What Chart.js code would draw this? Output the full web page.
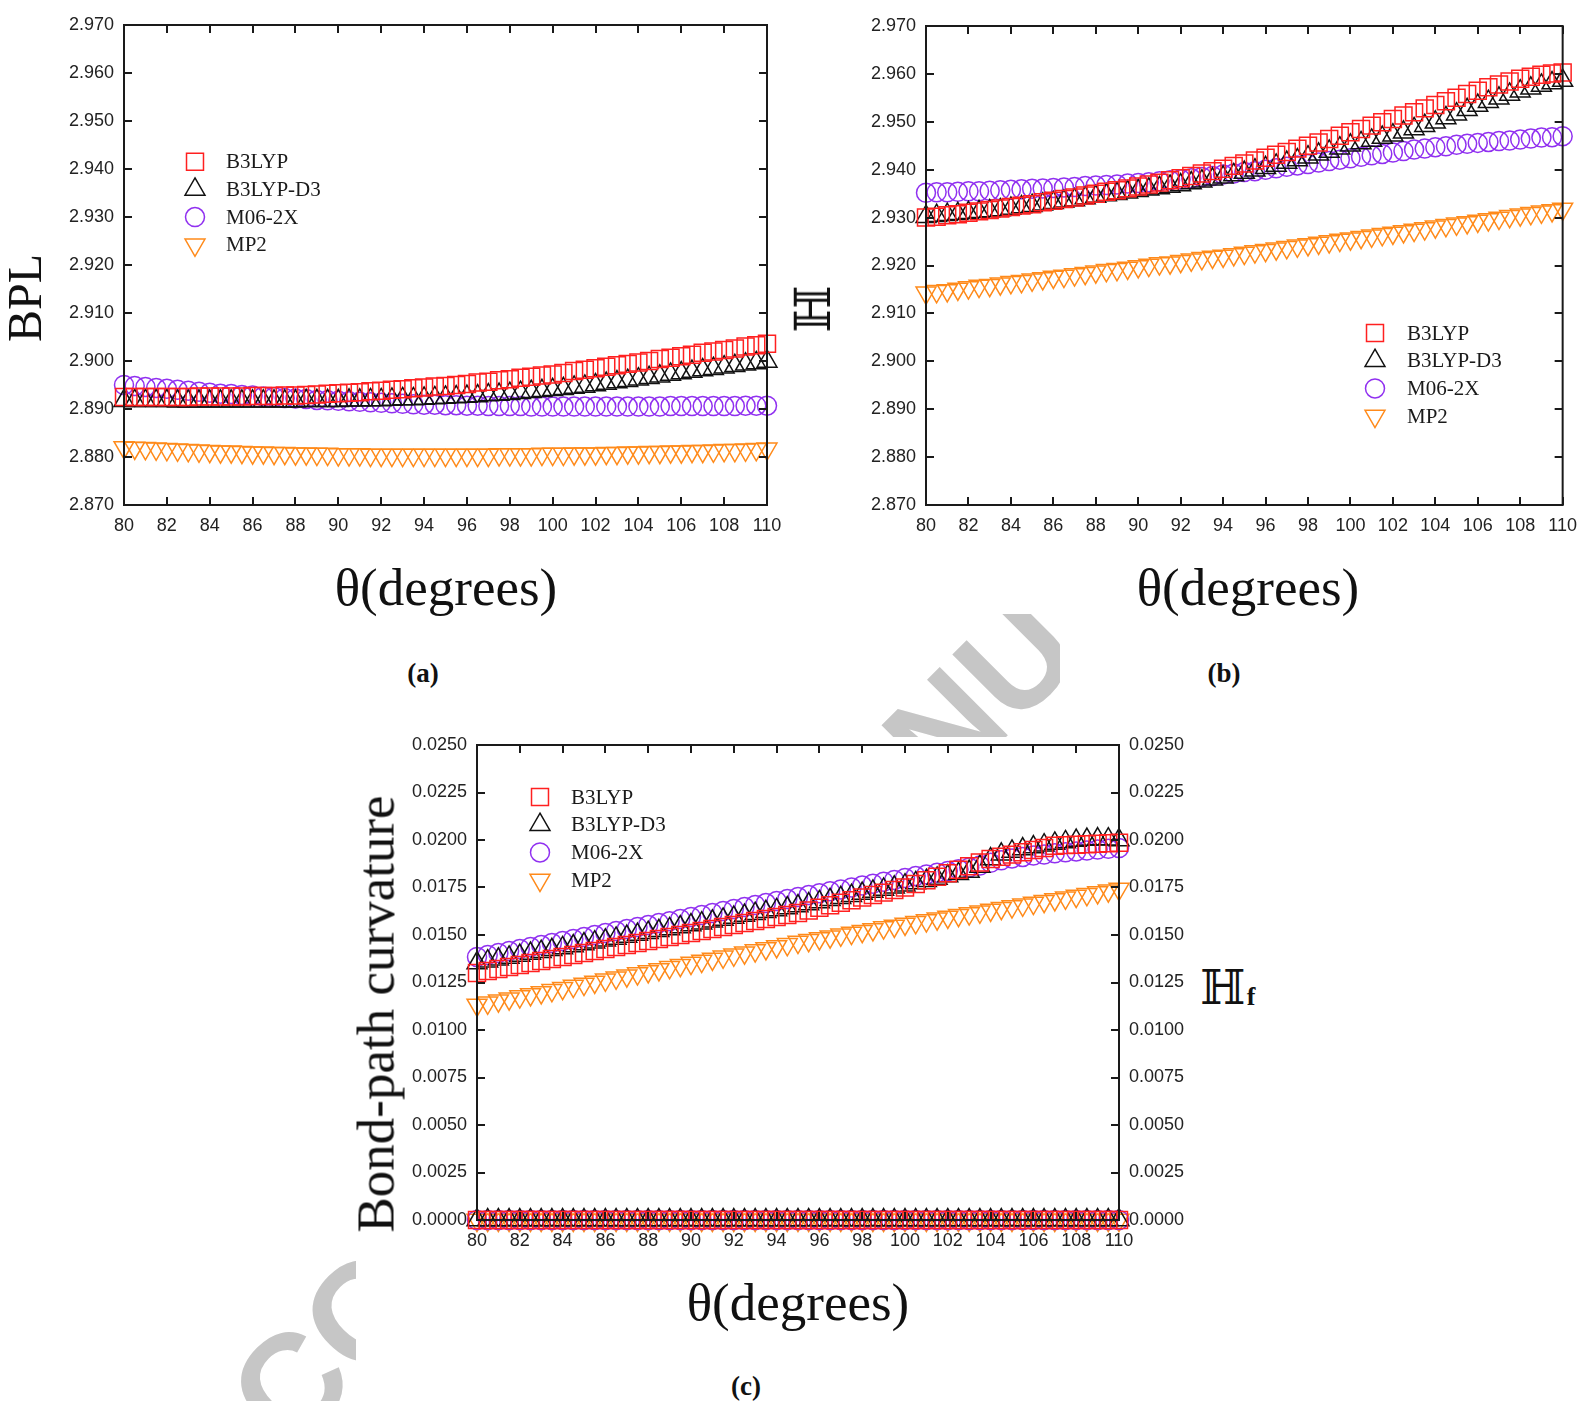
<!DOCTYPE html>
<html>
<head>
<meta charset="utf-8">
<script src="https://cdn.jsdelivr.net/npm/chart.js@4.4.1/dist/chart.umd.min.js"></script>
<style>
  body { margin: 0; width: 1587px; height: 1401px; position: relative; background: #fff; overflow: hidden; }
  canvas { position: absolute; }
  .t { position: absolute; white-space: nowrap; transform: translate(-50%, -50%); color: #111; font-family: "Liberation Serif", serif; line-height: 1; }
  .wm { position: absolute; left: 0; top: 0; width: 1587px; height: 1401px; }
  .wm span { position: absolute; left: 799px; top: 876px; transform: translate(-50%, -50%) rotate(-45deg);
             font: bold 140px "Liberation Sans", sans-serif; color: #c6c6c6; white-space: nowrap; }
</style>
</head>
<body>
<div class="wm" style="clip-path: inset(614px 527px 664px 860px)"><span>ACCEPTED MANUSCRIPT</span></div>
<div class="wm" style="clip-path: inset(1180px 1231px 0px 0px)"><span>ACCEPTED MANUSCRIPT</span></div>

<canvas id="chartA" width="800" height="540" style="left:0;top:0"></canvas>
<canvas id="chartB" width="787" height="540" style="left:800px;top:0"></canvas>
<canvas id="chartC" width="810" height="540" style="left:390px;top:720px"></canvas>

<div class="t" style="left:25px;top:298px;font-size:48px;transform:translate(-50%,-50%) rotate(-90deg)">BPL</div>
<div class="t" style="left:446px;top:587px;font-size:53px">θ(degrees)</div>
<div class="t" style="left:423px;top:673px;font-size:27px;font-weight:bold">(a)</div>

<div class="t" style="left:813px;top:309px;font-size:50px;font-family:'DejaVu Serif','DejaVu Sans';transform:translate(-50%,-50%) rotate(-90deg)">ℍ</div>
<div class="t" style="left:1248px;top:587px;font-size:53px">θ(degrees)</div>
<div class="t" style="left:1224px;top:673px;font-size:27px;font-weight:bold">(b)</div>

<div class="t" style="left:376px;top:1014px;font-size:53px;transform:translate(-50%,-50%) rotate(-90deg)">Bond-path curvature</div>
<div class="t" style="left:1223px;top:987px;font-size:48px;font-family:'DejaVu Serif','DejaVu Sans'">ℍ</div>
<div class="t" style="left:1251px;top:997px;font-size:26px;font-weight:bold">f</div>
<div class="t" style="left:798px;top:1302px;font-size:53px">θ(degrees)</div>
<div class="t" style="left:746px;top:1386px;font-size:27px;font-weight:bold">(c)</div>

<script>
// angle values, 0.5 degree steps
const theta = [80, 80.5, 81, 81.5, 82, 82.5, 83, 83.5, 84, 84.5, 85, 85.5, 86, 86.5, 87, 87.5, 88, 88.5, 89, 89.5,
  90, 90.5, 91, 91.5, 92, 92.5, 93, 93.5, 94, 94.5, 95, 95.5, 96, 96.5, 97, 97.5, 98, 98.5, 99, 99.5,
  100, 100.5, 101, 101.5, 102, 102.5, 103, 103.5, 104, 104.5, 105, 105.5, 106, 106.5, 107, 107.5, 108, 108.5, 109, 109.5, 110];

const methods = ["B3LYP", "B3LYP-D3", "M06-2X", "MP2"];

// (a) BPL
const bplB3LYP = [2.8925, 2.8925, 2.8925, 2.8925, 2.8925, 2.8925, 2.8925, 2.8926, 2.8926, 2.8926, 2.8926, 2.8926, 2.8927, 2.8927, 2.8927, 2.8928, 2.8928, 2.8929, 2.8930, 2.8932,
  2.8933, 2.8934, 2.8935, 2.8937, 2.8938, 2.8940, 2.8941, 2.8943, 2.8945, 2.8947, 2.8948, 2.8950, 2.8952, 2.8955, 2.8957, 2.8960, 2.8962, 2.8965, 2.8967, 2.8970,
  2.8972, 2.8975, 2.8979, 2.8982, 2.8985, 2.8988, 2.8991, 2.8994, 2.8997, 2.9000, 2.9004, 2.9007, 2.9010, 2.9013, 2.9017, 2.9020, 2.9023, 2.9026, 2.9030, 2.9033, 2.9036];
const bplB3LYPD3 = [2.8917, 2.8917, 2.8917, 2.8917, 2.8917, 2.8916, 2.8916, 2.8916, 2.8916, 2.8916, 2.8916, 2.8916, 2.8916, 2.8916, 2.8916, 2.8916, 2.8916, 2.8917, 2.8917, 2.8917,
  2.8917, 2.8918, 2.8918, 2.8919, 2.8919, 2.8920, 2.8921, 2.8921, 2.8922, 2.8923, 2.8924, 2.8925, 2.8926, 2.8927, 2.8929, 2.8930, 2.8932, 2.8934, 2.8936, 2.8938,
  2.8940, 2.8942, 2.8945, 2.8947, 2.8950, 2.8953, 2.8956, 2.8959, 2.8962, 2.8965, 2.8968, 2.8972, 2.8975, 2.8978, 2.8981, 2.8984, 2.8987, 2.8990, 2.8993, 2.8996, 2.8999];
const bplM062X = [2.8950, 2.8948, 2.8946, 2.8944, 2.8942, 2.8940, 2.8938, 2.8936, 2.8934, 2.8932, 2.8931, 2.8929, 2.8928, 2.8926, 2.8925, 2.8923, 2.8922, 2.8921, 2.8919, 2.8918,
  2.8917, 2.8916, 2.8915, 2.8914, 2.8913, 2.8912, 2.8911, 2.8910, 2.8909, 2.8909, 2.8908, 2.8908, 2.8907, 2.8907, 2.8906, 2.8906, 2.8906, 2.8906, 2.8905, 2.8905,
  2.8905, 2.8905, 2.8905, 2.8905, 2.8905, 2.8905, 2.8905, 2.8905, 2.8905, 2.8905, 2.8905, 2.8906, 2.8906, 2.8906, 2.8906, 2.8906, 2.8906, 2.8906, 2.8907, 2.8907, 2.8907];
const bplMP2 = [2.8820, 2.8819, 2.8818, 2.8817, 2.8816, 2.8815, 2.8814, 2.8813, 2.8812, 2.8811, 2.8811, 2.8810, 2.8809, 2.8809, 2.8808, 2.8808, 2.8807, 2.8807, 2.8806, 2.8806,
  2.8805, 2.8805, 2.8805, 2.8804, 2.8804, 2.8804, 2.8804, 2.8804, 2.8804, 2.8804, 2.8804, 2.8804, 2.8804, 2.8804, 2.8804, 2.8805, 2.8805, 2.8805, 2.8805, 2.8806,
  2.8806, 2.8806, 2.8807, 2.8807, 2.8807, 2.8808, 2.8808, 2.8809, 2.8809, 2.8810, 2.8810, 2.8811, 2.8811, 2.8812, 2.8812, 2.8813, 2.8814, 2.8814, 2.8815, 2.8816, 2.8817];

// (b) H
const hB3LYP = [2.9300, 2.9302, 2.9305, 2.9307, 2.9310, 2.9313, 2.9316, 2.9319, 2.9322, 2.9325, 2.9328, 2.9332, 2.9335, 2.9339, 2.9342, 2.9346, 2.9350, 2.9354, 2.9357, 2.9361,
  2.9365, 2.9369, 2.9373, 2.9378, 2.9382, 2.9387, 2.9392, 2.9397, 2.9402, 2.9408, 2.9413, 2.9419, 2.9425, 2.9431, 2.9437, 2.9444, 2.9450, 2.9457, 2.9464, 2.9471,
  2.9478, 2.9485, 2.9492, 2.9499, 2.9506, 2.9513, 2.9520, 2.9528, 2.9535, 2.9543, 2.9550, 2.9558, 2.9565, 2.9572, 2.9578, 2.9584, 2.9590, 2.9594, 2.9598, 2.9601, 2.9603];
const hB3LYPD3 = [2.9302, 2.9304, 2.9306, 2.9308, 2.9310, 2.9312, 2.9314, 2.9316, 2.9319, 2.9322, 2.9325, 2.9328, 2.9331, 2.9334, 2.9337, 2.9341, 2.9344, 2.9347, 2.9350, 2.9353,
  2.9356, 2.9359, 2.9362, 2.9365, 2.9368, 2.9372, 2.9376, 2.9380, 2.9384, 2.9389, 2.9394, 2.9399, 2.9404, 2.9409, 2.9415, 2.9420, 2.9426, 2.9432, 2.9438, 2.9445,
  2.9451, 2.9456, 2.9461, 2.9467, 2.9472, 2.9478, 2.9485, 2.9492, 2.9499, 2.9508, 2.9516, 2.9525, 2.9534, 2.9542, 2.9549, 2.9557, 2.9564, 2.9570, 2.9576, 2.9581, 2.9586];
const hM062X = [2.9352, 2.9353, 2.9353, 2.9354, 2.9355, 2.9355, 2.9356, 2.9357, 2.9358, 2.9359, 2.9360, 2.9361, 2.9362, 2.9363, 2.9364, 2.9366, 2.9367, 2.9368, 2.9369, 2.9371,
  2.9372, 2.9374, 2.9376, 2.9378, 2.9380, 2.9382, 2.9385, 2.9387, 2.9390, 2.9392, 2.9395, 2.9397, 2.9400, 2.9403, 2.9406, 2.9409, 2.9412, 2.9415, 2.9418, 2.9421,
  2.9424, 2.9427, 2.9430, 2.9433, 2.9436, 2.9439, 2.9442, 2.9444, 2.9447, 2.9449, 2.9452, 2.9454, 2.9456, 2.9458, 2.9460, 2.9461, 2.9463, 2.9465, 2.9467, 2.9468, 2.9470];
const hMP2 = [2.9143, 2.9146, 2.9148, 2.9151, 2.9154, 2.9157, 2.9159, 2.9162, 2.9165, 2.9167, 2.9170, 2.9173, 2.9176, 2.9178, 2.9181, 2.9184, 2.9187, 2.9190, 2.9192, 2.9195,
  2.9198, 2.9201, 2.9204, 2.9206, 2.9209, 2.9212, 2.9215, 2.9218, 2.9220, 2.9223, 2.9226, 2.9229, 2.9232, 2.9235, 2.9238, 2.9241, 2.9244, 2.9247, 2.9250, 2.9253,
  2.9256, 2.9259, 2.9262, 2.9265, 2.9268, 2.9271, 2.9274, 2.9277, 2.9281, 2.9284, 2.9287, 2.9290, 2.9293, 2.9296, 2.9299, 2.9303, 2.9306, 2.9309, 2.9312, 2.9315, 2.9318];

// (c) bond-path curvature
const curvB3LYP = [0.01300, 0.01311, 0.01321, 0.01332, 0.01342, 0.01353, 0.01363, 0.01374, 0.01384, 0.01395, 0.01405, 0.01416, 0.01426, 0.01437, 0.01447, 0.01458, 0.01468, 0.01479, 0.01489, 0.01500,
  0.01510, 0.01521, 0.01531, 0.01542, 0.01553, 0.01563, 0.01574, 0.01584, 0.01595, 0.01605, 0.01616, 0.01629, 0.01643, 0.01656, 0.01670, 0.01683, 0.01697, 0.01710, 0.01723, 0.01737,
  0.01750, 0.01769, 0.01788, 0.01806, 0.01825, 0.01844, 0.01862, 0.01881, 0.01900, 0.01912, 0.01923, 0.01935, 0.01947, 0.01958, 0.01970, 0.01973, 0.01975, 0.01978, 0.01980, 0.01983, 0.01985];
const curvB3LYPD3 = [0.01352, 0.01362, 0.01372, 0.01382, 0.01392, 0.01402, 0.01412, 0.01422, 0.01432, 0.01442, 0.01452, 0.01462, 0.01472, 0.01482, 0.01492, 0.01502, 0.01512, 0.01522, 0.01532, 0.01542,
  0.01552, 0.01562, 0.01572, 0.01582, 0.01592, 0.01602, 0.01612, 0.01622, 0.01632, 0.01642, 0.01652, 0.01663, 0.01674, 0.01685, 0.01696, 0.01707, 0.01718, 0.01729, 0.01740, 0.01751,
  0.01762, 0.01774, 0.01786, 0.01798, 0.01810, 0.01822, 0.01834, 0.01860, 0.01900, 0.01925, 0.01940, 0.01952, 0.01963, 0.01973, 0.01982, 0.01990, 0.01997, 0.02002, 0.02005, 0.02004, 0.02000];
const curvM062X = [0.01384, 0.01395, 0.01405, 0.01416, 0.01426, 0.01437, 0.01447, 0.01458, 0.01468, 0.01479, 0.01489, 0.01500, 0.01510, 0.01521, 0.01531, 0.01542, 0.01552, 0.01563, 0.01573, 0.01584,
  0.01595, 0.01605, 0.01616, 0.01626, 0.01637, 0.01647, 0.01658, 0.01668, 0.01679, 0.01689, 0.01700, 0.01710, 0.01720, 0.01730, 0.01740, 0.01750, 0.01760, 0.01770, 0.01780, 0.01790,
  0.01800, 0.01810, 0.01819, 0.01828, 0.01837, 0.01846, 0.01855, 0.01866, 0.01880, 0.01893, 0.01903, 0.01911, 0.01918, 0.01924, 0.01930, 0.01935, 0.01940, 0.01945, 0.01950, 0.01954, 0.01958];
const curvMP2 = [0.01132, 0.01143, 0.01154, 0.01165, 0.01176, 0.01187, 0.01198, 0.01209, 0.01220, 0.01231, 0.01242, 0.01253, 0.01264, 0.01275, 0.01286, 0.01297, 0.01308, 0.01319, 0.01330, 0.01341,
  0.01352, 0.01363, 0.01374, 0.01385, 0.01396, 0.01407, 0.01418, 0.01429, 0.01440, 0.01451, 0.01463, 0.01472, 0.01482, 0.01491, 0.01501, 0.01510, 0.01520, 0.01529, 0.01539, 0.01548,
  0.01558, 0.01567, 0.01576, 0.01586, 0.01595, 0.01604, 0.01613, 0.01622, 0.01632, 0.01641, 0.01650, 0.01659, 0.01668, 0.01678, 0.01687, 0.01696, 0.01705, 0.01714, 0.01724, 0.01733, 0.01742];
// Hf, all four methods read as 0.0000 on the right axis
const hfValues = [0, 0, 0, 0, 0, 0, 0, 0, 0, 0, 0, 0, 0, 0, 0, 0, 0, 0, 0, 0,
  0, 0, 0, 0, 0, 0, 0, 0, 0, 0, 0, 0, 0, 0, 0, 0, 0, 0, 0, 0,
  0, 0, 0, 0, 0, 0, 0, 0, 0, 0, 0, 0, 0, 0, 0, 0, 0, 0, 0, 0, 0];

const colors = ["#ff2020", "#111111", "#9030f0", "#ff8a1a"];
const styles = [
  { pointStyle: "rect", radius: 12, rotation: 0 },
  { pointStyle: "triangle", radius: 11.5, rotation: 0 },
  { pointStyle: "circle", radius: 9.5, rotation: 0 },
  { pointStyle: "triangle", radius: 11.5, rotation: 180 },
];

function makeSet(i, values, axisId) {
  return {
    label: methods[i],
    data: theta.map((x, k) => ({ x: x, y: values[k] })),
    pointStyle: styles[i].pointStyle,
    pointRadius: styles[i].radius,
    pointHoverRadius: styles[i].radius,
    pointRotation: styles[i].rotation,
    pointBorderWidth: 1.5,
    borderColor: colors[i],
    pointBorderColor: colors[i],
    backgroundColor: "rgba(0,0,0,0)",
    pointBackgroundColor: "rgba(0,0,0,0)",
    showLine: false,
    clip: false,
    yAxisID: axisId || "y",
  };
}

// closed frame with inward ticks on all four sides
const frameTicks = {
  id: "frameTicks",
  afterDatasetsDraw(chart) {
    const { ctx, chartArea: a, scales } = chart;
    const len = 8;
    ctx.save();
    ctx.strokeStyle = "#1a1a1a";
    ctx.lineWidth = 2;
    ctx.beginPath();
    scales.x.ticks.forEach(t => {
      const px = Math.round(scales.x.getPixelForValue(t.value));
      ctx.moveTo(px, a.bottom); ctx.lineTo(px, a.bottom - len);
      ctx.moveTo(px, a.top); ctx.lineTo(px, a.top + len);
    });
    scales.y.ticks.forEach(t => {
      const py = Math.round(scales.y.getPixelForValue(t.value));
      ctx.moveTo(a.left, py); ctx.lineTo(a.left + len, py);
      ctx.moveTo(a.right, py); ctx.lineTo(a.right - len, py);
    });
    ctx.stroke();
    ctx.strokeRect(a.left, a.top, a.right - a.left, a.bottom - a.top);
    ctx.restore();
  }
};

// legend drawn inside the plot area
const innerLegend = {
  id: "innerLegend",
  afterDatasetsDraw(chart, args, opts) {
    const ctx = chart.ctx;
    ctx.save();
    ctx.font = '21px "Liberation Serif"';
    ctx.textBaseline = "middle";
    methods.forEach((name, i) => {
      const y = opts.y + i * 27.7;
      ctx.strokeStyle = colors[i];
      ctx.fillStyle = "rgba(0,0,0,0)";
      ctx.lineWidth = 1.5;
      Chart.helpers.drawPoint(ctx, {
        pointStyle: styles[i].pointStyle, radius: styles[i].radius,
        rotation: styles[i].rotation, borderWidth: 1.5
      }, opts.x, y);
      ctx.fillStyle = "#1a1a1a";
      ctx.fillText(name, opts.textX, y + 1);
    });
    ctx.restore();
  }
};

const tickFont = { family: "Liberation Sans", size: 18 };

function yAxis(min, max, step, digits, width, position) {
  return {
    type: "linear",
    position: position || "left",
    min: min, max: max,
    grid: { display: false, drawTicks: false },
    border: { display: false },
    ticks: { stepSize: step, font: tickFont, color: "#222", padding: 10,
      callback: v => v.toFixed(digits) },
    afterFit(s) { s.width = width; }
  };
}

function xAxis(height) {
  return {
    type: "linear",
    min: 80, max: 110,
    grid: { display: false, drawTicks: false },
    border: { display: false },
    ticks: { stepSize: 2, font: tickFont, color: "#222", padding: 10, maxRotation: 0 },
    afterFit(s) { s.height = height; }
  };
}

function baseOptions(padding, legendPos) {
  return {
    responsive: false,
    animation: false,
    devicePixelRatio: 1,
    layout: { padding: padding },
    plugins: {
      legend: { display: false },
      tooltip: { enabled: false },
      innerLegend: legendPos
    },
  };
}

// (a)
const optA = baseOptions({ top: 25, right: 33, left: 0, bottom: 0 }, { x: 195, y: 161.7, textX: 226 });
optA.scales = { x: xAxis(35), y: yAxis(2.870, 2.970, 0.01, 3, 124) };
new Chart(document.getElementById("chartA"), {
  type: "scatter",
  data: { datasets: [makeSet(0, bplB3LYP), makeSet(1, bplB3LYPD3), makeSet(2, bplM062X), makeSet(3, bplMP2)] },
  options: optA,
  plugins: [frameTicks, innerLegend]
});

// (b)
const optB = baseOptions({ top: 26, right: 18, left: 0, bottom: 0 }, { x: 575, y: 333, textX: 607 });
optB.scales = { x: xAxis(35), y: yAxis(2.870, 2.970, 0.01, 3, 126) };
new Chart(document.getElementById("chartB"), {
  type: "scatter",
  data: { datasets: [makeSet(0, hB3LYP), makeSet(1, hB3LYPD3), makeSet(2, hM062X), makeSet(3, hMP2)] },
  options: optB,
  plugins: [frameTicks, innerLegend]
});

// (c)
const optC = baseOptions({ top: 25, right: 0, left: 0, bottom: 0 }, { x: 150, y: 77, textX: 181 });
optC.scales = {
  x: xAxis(40),
  y: yAxis(0, 0.025, 0.0025, 4, 87),
  y2: yAxis(0, 0.025, 0.0025, 4, 81, "right")
};
new Chart(document.getElementById("chartC"), {
  type: "scatter",
  data: { datasets: [
    makeSet(0, curvB3LYP), makeSet(1, curvB3LYPD3), makeSet(2, curvM062X), makeSet(3, curvMP2),
    makeSet(0, hfValues, "y2"), makeSet(1, hfValues, "y2"), makeSet(2, hfValues, "y2"), makeSet(3, hfValues, "y2")
  ] },
  options: optC,
  plugins: [frameTicks, innerLegend]
});
</script>
</body>
</html>
